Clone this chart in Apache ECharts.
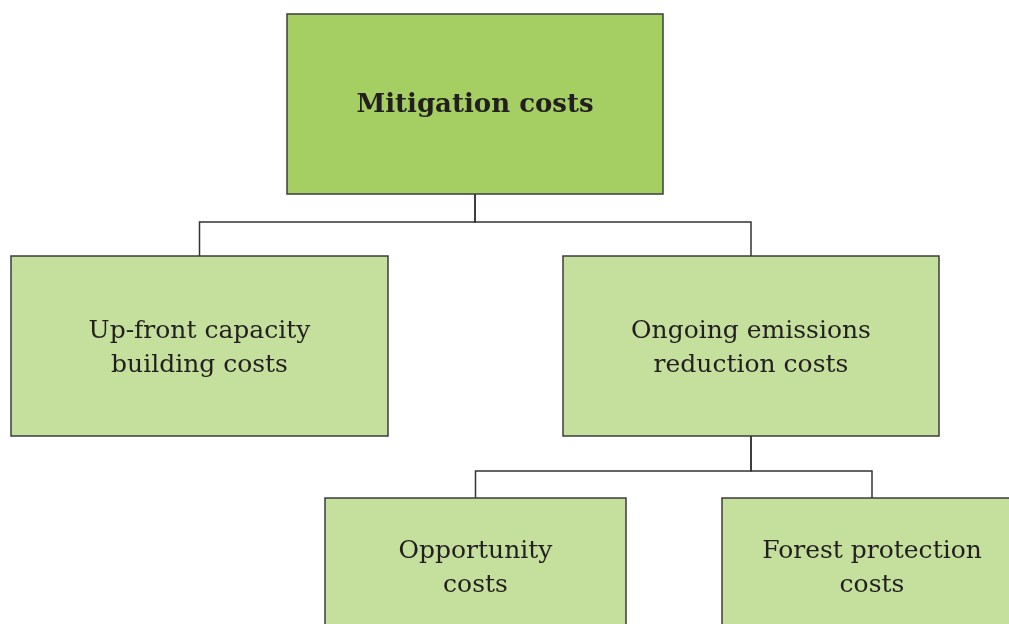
<!DOCTYPE html>
<html>
<head>
<meta charset="utf-8">
<script src="https://cdn.jsdelivr.net/npm/echarts@6/dist/echarts.min.js"></script>
<style>
  html, body { margin: 0; padding: 0; background: #fff; }
  #main { width: 1009px; height: 624px; }
</style>
</head>
<body>
<div id="main"></div>
<script>
// tree data: node text, depth and parent index
var nodeNames = [
    'Mitigation costs',
    'Up-front capacity\nbuilding costs',
    'Ongoing emissions\nreduction costs',
    'Opportunity\ncosts',
    'Forest protection\ncosts'
];
var nodeLevels = [0, 1, 1, 2, 2];
var nodeParents = [-1, 0, 0, 2, 2];

// layout of the boxes (diagram units = pixels of the page)
var layout = {
    left:   [287, 11, 563, 325, 722],
    top:    [14, 256, 256, 498, 498],
    width:  [376, 377, 376, 301, 300],
    height: 180,
    textY:  [105, 348, 348, 568, 568],
    elbowY: [222, 471]   // by parent level
};

var fills = ['#a5cf63', '#c5df9d', '#c5df9d'];
var textFont = '25px "DejaVu Serif", serif';
var boldFont = 'bold 26px "DejaVu Serif", serif';

function renderBox(params, api) {
    var i = api.value(0);
    var p0 = api.coord([layout.left[i], layout.top[i]]);
    var p1 = api.coord([layout.left[i] + layout.width[i], layout.top[i] + layout.height]);
    var tc = api.coord([layout.left[i] + layout.width[i] / 2, layout.textY[i]]);
    return {
        type: 'group',
        children: [{
            type: 'rect',
            shape: { x: p0[0], y: p0[1], width: p1[0] - p0[0], height: p1[1] - p0[1] },
            style: { fill: fills[nodeLevels[i]], stroke: '#3c3c3c', lineWidth: 1.5 }
        }, {
            type: 'text',
            style: {
                text: nodeNames[i],
                x: tc[0], y: tc[1],
                align: 'center', verticalAlign: 'middle',
                font: nodeLevels[i] === 0 ? boldFont : textFont,
                lineHeight: 34,
                fill: '#231f20'
            }
        }]
    };
}

function renderLink(params, api) {
    var c = api.value(0);
    var p = nodeParents[c];
    var px = layout.left[p] + layout.width[p] / 2;
    var cx = layout.left[c] + layout.width[c] / 2;
    var ey = layout.elbowY[nodeLevels[p]];
    var pts = [
        api.coord([px, layout.top[p] + layout.height]),
        api.coord([px, ey]),
        api.coord([cx, ey]),
        api.coord([cx, layout.top[c]])
    ];
    return {
        type: 'polyline',
        shape: { points: pts },
        style: { stroke: '#333', lineWidth: 1.5, fill: null }
    };
}

var boxData = nodeNames.map(function (n, i) { return [i]; });
var linkData = [];
nodeParents.forEach(function (p, i) { if (p >= 0) linkData.push([i]); });

var myChart = echarts.init(document.getElementById('main'));
var option = {
    animation: false,
    grid: { left: 0, right: 0, top: 0, bottom: 0 },
    xAxis: { type: 'value', min: 0, max: 1009, show: false },
    yAxis: { type: 'value', min: 0, max: 624, inverse: true, show: false },
    series: [{
        type: 'custom',
        renderItem: renderLink,
        data: linkData,
        clip: true
    }, {
        type: 'custom',
        renderItem: renderBox,
        data: boxData,
        clip: true
    }]
};
myChart.setOption(option);
</script>
</body>
</html>
